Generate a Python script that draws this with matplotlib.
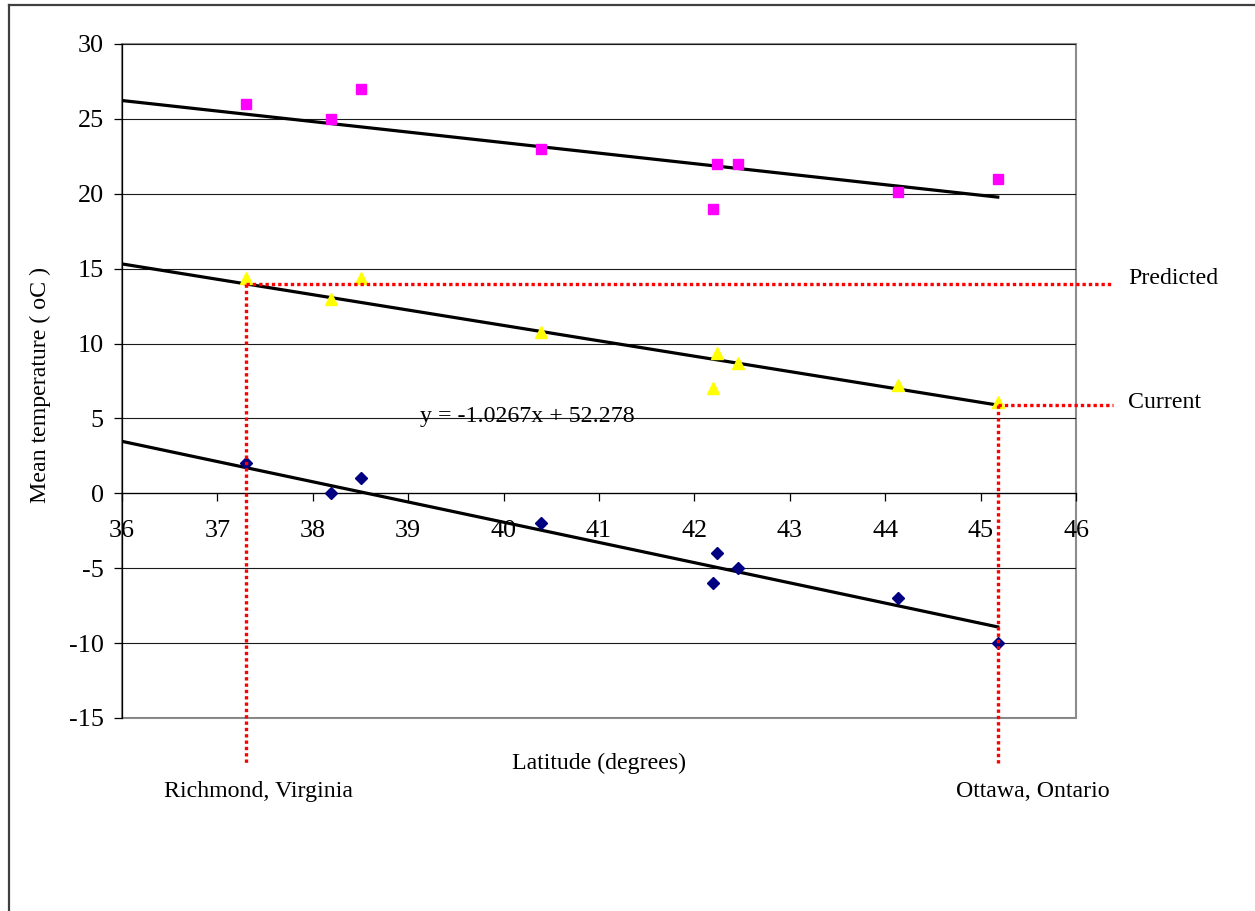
import matplotlib
matplotlib.use("Agg")
from matplotlib import pyplot as plt
from matplotlib.lines import Line2D
import numpy as np

plt.rcParams['font.family'] = ['Liberation Serif', 'DejaVu Serif']
plt.rcParams['axes.unicode_minus'] = False

# latitudes of the stations (degrees)
latitude = [37.30, 38.19, 38.51, 40.39, 42.20, 42.24, 42.46, 44.13, 45.18]
# mean temperatures (oC)
temp_summer = [26, 25, 27, 23, 19, 22, 22, 20.1, 21]
temp_annual = [14.4, 13, 14.4, 10.8, 7, 9.4, 8.7, 7.2, 6.1]
temp_winter = [2, 0, 1, -2, -6, -4, -5, -7, -10]

# trendline coefficients (slope, intercept)
trend_summer = (-0.7026, 51.52)
trend_annual = (-1.0267, 52.278)
trend_winter = (-1.3497, 52.06)

richmond_lat = latitude[0]
ottawa_lat = latitude[-1]

FS = 17.2
TICK_FS = 18.8

fig = plt.figure(figsize=(12.55, 9.11), dpi=100)
ax = fig.add_axes([122 / 1255, 1 - 718 / 911, (1076 - 122) / 1255, (718 - 44) / 911])

ax.set_xlim(36, 46)
ax.set_ylim(-15, 30)
ax.set_yticks(np.arange(-15, 31, 5))
ax.set_xticks(np.arange(36, 47, 1))
ax.grid(axis='y', color='#1a1a1a', linewidth=0.8)
ax.set_axisbelow(True)

ax.patch.set_edgecolor('#8c8c8c')
ax.patch.set_linewidth(1.5)
for s in ['top', 'right']:
    ax.spines[s].set_visible(False)
ax.spines['left'].set_linewidth(0.9)
ax.spines['bottom'].set_position(('data', 0))
ax.spines['bottom'].set_linewidth(0.9)

ax.tick_params(axis='y', direction='out', length=6, width=0.9, pad=7, labelsize=TICK_FS)
ax.tick_params(axis='x', direction='out', length=6, width=0.9, pad=13, labelsize=TICK_FS)

# trendlines
xt = np.array([36, ottawa_lat])
for m, b in [trend_summer, trend_annual, trend_winter]:
    ax.plot(xt, m * xt + b, color='black', linewidth=2.3, zorder=3)

ax.plot(latitude, temp_summer, linestyle='none', marker='s', markersize=7.2,
        color='#ff00ff', zorder=4)
ax.plot(latitude, temp_annual, linestyle='none', marker='^', markersize=8,
        color='#ffff00', zorder=4)
ax.plot(latitude, temp_winter, linestyle='none', marker='D', markersize=6,
        color='#000080', zorder=4)

# predicted / current reference lines
predicted = trend_annual[0] * richmond_lat + trend_annual[1]
current = trend_annual[0] * ottawa_lat + trend_annual[1]
dots = dict(color='#ff0000', linewidth=2.4, linestyle=(0, (1, 0.9)),
            dash_capstyle='butt', clip_on=False, zorder=5)
ax.plot([richmond_lat, 46.39], [predicted, predicted], **dots)
ax.plot([richmond_lat, richmond_lat], [predicted, -18.1], **dots)
ax.plot([ottawa_lat, 46.39], [current, current], **dots)
ax.plot([ottawa_lat, ottawa_lat], [current, -18.1], **dots)

ax.text(46.55, 14.35, 'Predicted', fontsize=FS, va='center', ha='left', clip_on=False)
ax.text(46.55, 6.07, 'Current', fontsize=FS, va='center', ha='left', clip_on=False)
ax.text(40.25, 5.15, 'y = -1.0267x + 52.278', fontsize=FS, va='center', ha='center')
ax.text(37.43, -19.9, 'Richmond, Virginia', fontsize=FS, va='center', ha='center', clip_on=False)
ax.text(45.55, -19.9, 'Ottawa, Ontario', fontsize=FS, va='center', ha='center', clip_on=False)

fig.text(599 / 1255, 1 - 763 / 911, 'Latitude (degrees)', fontsize=FS, ha='center', va='center')
fig.text(40 / 1255, 1 - 385 / 911, 'Mean temperature ( oC )', fontsize=FS,
         ha='center', va='center', rotation=90)

# chart border
fig.add_artist(Line2D([9 / 1255, 9 / 1255], [0, 1 - 5 / 911], color='#404040', linewidth=1.6))
fig.add_artist(Line2D([9 / 1255, 1], [1 - 5 / 911, 1 - 5 / 911], color='#404040', linewidth=1.6))

fig.savefig('out.png', dpi=100)
